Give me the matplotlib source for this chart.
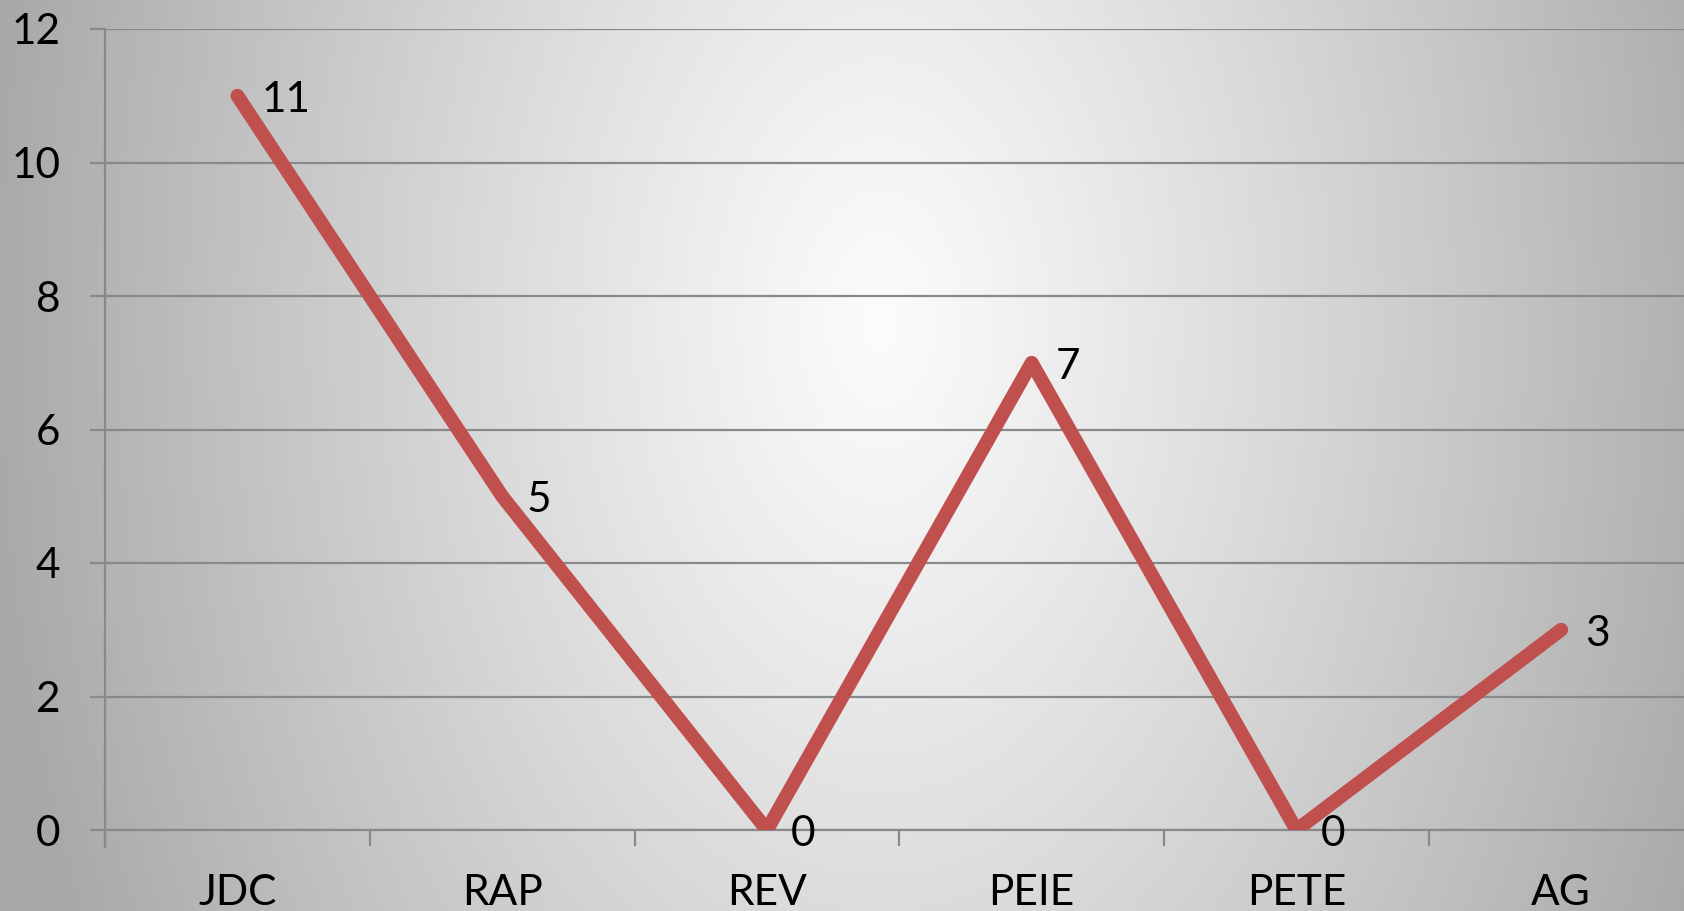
import numpy as np
import matplotlib
matplotlib.use("Agg")
import matplotlib.pyplot as plt

categories = ["JDC", "RAP", "REV", "PEIE", "PETE", "AG"]
values = [11, 5, 0, 7, 0, 3]
yticks = [0, 2, 4, 6, 8, 10, 12]

W, H, DPI = 1684, 911, 100
plt.rcParams['font.family'] = ['Lato', 'DejaVu Sans']

fig = plt.figure(figsize=(W / DPI, H / DPI), dpi=DPI)

# radial gradient background
bg = fig.add_axes([0, 0, 1, 1], zorder=-10)
yy, xx = np.mgrid[0:H, 0:W]
cx, cy = 880, 320
r = np.sqrt(((xx - cx) / 900.0) ** 2 + ((yy - cy) * 0.635 / 900.0) ** 2)
g = np.clip(252 - 84 * r ** 1.1, 168, 252) / 255.0
bg.imshow(np.dstack([g, g, g]), extent=[0, W, H, 0], aspect='auto', interpolation='bilinear')
bg.set_axis_off()

left = 105 / W
right = 1693.6 / W
bottom = 1 - 830 / H
top = 1 - 29 / H
ax = fig.add_axes([left, bottom, right - left, top - bottom])
ax.set_facecolor('none')

x = np.arange(len(categories))
ax.plot(x, values, color='#C0504D', lw=10, solid_capstyle='round',
        solid_joinstyle='round', zorder=3)

fs = 30.5
for xi, v in zip(x, values):
    ax.annotate(str(v), (xi, v), xytext=(24, -4), textcoords='offset pixels',
                ha='left', va='center', fontsize=fs, color='black',
                annotation_clip=False, zorder=4)

ax.set_xlim(-0.5, len(categories) - 0.5)
ax.set_ylim(0, 12)
ax.set_yticks(yticks)
ax.set_yticklabels([str(t) for t in yticks])
ax.set_xticks(x)
ax.set_xticklabels(categories)
ax.set_xticks(np.arange(-0.5, len(categories), 1), minor=True)

gc = '#898989'
ax.yaxis.grid(True, color=gc, lw=1.6)
ax.set_axisbelow(True)
for s in ['top', 'right']:
    ax.spines[s].set_visible(False)
ax.spines['left'].set_color(gc)
ax.spines['bottom'].set_color(gc)
ax.spines['left'].set_linewidth(1.6)
ax.spines['bottom'].set_linewidth(1.6)
ax.spines['left'].set_bounds(-0.26, 12)

ax.tick_params(axis='y', which='major', length=11, width=1.6, color=gc,
               pad=21, labelsize=fs)
ax.tick_params(axis='x', which='major', length=0, pad=32, labelsize=fs)
ax.tick_params(axis='x', which='minor', length=11.5, width=1.6, color=gc)

fig.savefig('out.png', dpi=DPI)
